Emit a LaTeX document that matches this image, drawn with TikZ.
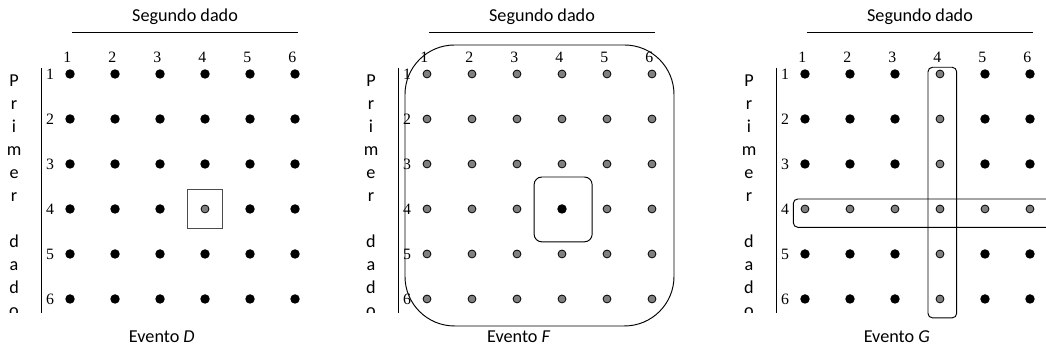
\documentclass[tikz,border=0pt]{standalone}
\usepackage{fontspec}
\setmainfont{Liberation Serif}
\newfontfamily\calibri{Carlito}

\tikzset{
  negro/.style={circle, fill=black, inner sep=0pt, minimum size=2.1mm},
  gris/.style={circle, draw=black, line width=0.5pt, fill=black!50, inner sep=0pt, minimum size=1.75mm},
  num/.style={font=\fontsize{10}{12}\selectfont, inner sep=0pt},
  rotulo/.style={font=\calibri\fontsize{11.5}{13}\selectfont, inner sep=0pt},
  caja/.style={draw=black!70, line width=0.7pt},
}

% encabezado, ejes y rotulos de un tablero
\newcommand\marcodados[1]{%
  \node[rotulo] (titulo) at (3.556,0.267) {Segundo dado};
  \coordinate (rayaIzq) at (1.044,-0.067);
  \coordinate (rayaDer) at (6.067,-0.067);
  \draw (rayaIzq) -- (rayaDer);
  \coordinate (ejeSup) at (0.356,-0.867);
  \coordinate (ejeInf) at (0.356,-6.31);
  \draw (ejeSup) -- (ejeInf);
  \foreach \k in {1,...,6} {
    \node[num] (col\k) at (\k-0.06,-0.622) {\k};
    \node[num] (fila\k) at (0.556,-\k) {\k};
  }
  \begin{scope}
    \clip (-0.6,-0.8) rectangle (0.3,-6.31);
    \foreach \n/\letra in {0/P,1/r,2/i,3/m,4/e,5/r,7/d,8/a,9/d,10/o}
      \node[rotulo, anchor=base] (letra\n) at (-0.244,-1.289-0.511*\n) {\letra};
  \end{scope}
  \node[rotulo] (evento) at (3.04,-6.844) {Evento \textit{#1}};
}

\begin{document}
\begin{tikzpicture}[line width=0.6pt]
  %%%%% START %%%%%
  \useasboundingbox (-0.556,0.644) rectangle (22.689,-7.356);

  % evento D
  \begin{scope}[name prefix=a-]
    \marcodados{D}
    \foreach \f in {1,...,6}
      \foreach \c in {1,...,6} {
        \def\estilo{negro}
        \ifnum\f=4 \ifnum\c=4 \def\estilo{gris}\fi\fi
        \node[\estilo] (p\f\c) at (\c,-\f) {};
      }
    \draw[caja] ([shift={(-0.38,0.44)}]p44.center) rectangle ([shift={(0.38,-0.44)}]p44.center);
  \end{scope}

  % evento F
  \begin{scope}[xshift=7.933cm, name prefix=b-]
    \marcodados{F}
    \foreach \f in {1,...,6}
      \foreach \c in {1,...,6} {
        \def\estilo{gris}
        \ifnum\f=4 \ifnum\c=4 \def\estilo{negro}\fi\fi
        \node[\estilo] (p\f\c) at (\c,-\f) {};
      }
    \draw[rounded corners=1.1cm] (0.511,-0.356) rectangle (6.489,-6.6);
    \draw[rounded corners=0.17cm] ([shift={(-0.62,0.71)}]p44.center) rectangle ([shift={(0.67,-0.73)}]p44.center);
  \end{scope}

  % evento G
  \begin{scope}[xshift=16.333cm, name prefix=c-]
    \marcodados{G}
    \foreach \f in {1,...,6}
      \foreach \c in {1,...,6} {
        \def\estilo{negro}
        \ifnum\f=4 \def\estilo{gris}\fi
        \ifnum\c=4 \def\estilo{gris}\fi
        \node[\estilo] (p\f\c) at (\c,-\f) {};
      }
    \draw[rounded corners=0.1cm] (3.733,-0.851) rectangle (4.371,-6.42);
    \draw[rounded corners=0.1cm] (0.74,-3.778) rectangle (6.9,-4.407);
  \end{scope}
  %%%%% END %%%%%
\end{tikzpicture}
\end{document}
